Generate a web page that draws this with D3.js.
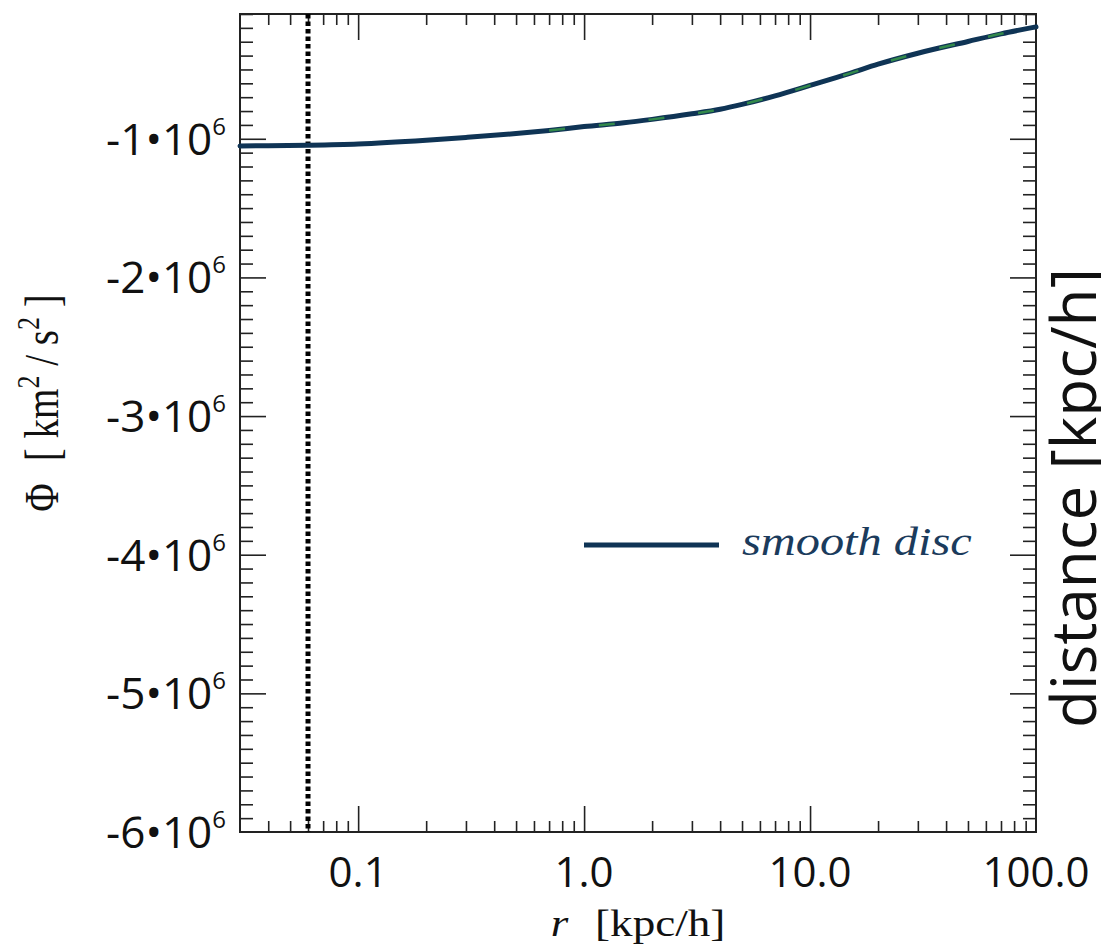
<!DOCTYPE html>
<html>
<head>
<meta charset="utf-8">
<script src="https://cdn.jsdelivr.net/npm/d3@7"></script>
<style>
  html, body { margin: 0; padding: 0; background: #fff; }
  svg { display: block; }
</style>
</head>
<body>
<svg id="chart" width="1101" height="949"></svg>
<script>
// Gravitational potential profile of the smooth disc, Phi(r)
const radius = [0.03, 0.04, 0.06, 0.1, 0.2, 0.3, 0.5, 0.7, 1.0, 1.5, 2, 3, 4, 5, 7, 10, 15, 20, 30, 50, 70, 100];
const phiSmooth = [-1.052e6, -1.050e6, -1.046e6, -1.037e6, -1.010e6, -0.990e6, -0.962e6, -0.940e6, -0.912e6,
  -0.885e6, -0.860e6, -0.820e6, -0.787e6, -0.752e6, -0.690e6, -0.615e6, -0.528e6, -0.462e6, -0.383e6,
  -0.298e6, -0.243e6, -0.193e6];
const softening = [0.06];             // vertical marker, kpc/h
const xMajorTicks = [0.1, 1, 10, 100];
const xTickLabels = ["0.1", "1.0", "10.0", "100.0"];
const yMajorTicks = [-1e6, -2e6, -3e6, -4e6, -5e6, -6e6];
const yTickMantissa = ["-1", "-2", "-3", "-4", "-5", "-6"];
const legendLabels = ["smooth disc"];

const svg = d3.select("#chart");
const plotL = 240, plotR = 1036, plotT = 14, plotB = 832;

const x = d3.scaleLog().domain([0.03, 100]).range([plotL, plotR]);
const y = d3.scaleLinear().domain([-6e6, -1e5]).range([plotB, plotT]);

const axisColor = "#222";
const lineColor = "#0f3455";

// minor tick values
const xMinor = [];
[0.01, 0.1, 1, 10].forEach(d => { for (let k = 2; k <= 9; k++) { const v = d * k; if (v > 0.03 && v < 100) xMinor.push(v); } });
const yMinor = d3.range(-59, 0).map(k => k * 1e5).filter(v => !yMajorTicks.includes(v) && v > -6e6);

// ticks pointing inwards on all four sides
const g = svg.append("g");
function xTicks(vals, len) {
  const a = d3.axisBottom(x).tickValues(vals).tickSize(len).tickFormat("");
  g.append("g").attr("transform", `translate(0,${plotB})`).call(a).call(s => { s.select(".domain").remove(); s.selectAll("line").attr("y2", -len); });
  g.append("g").attr("transform", `translate(0,${plotT})`).call(a).call(s => { s.select(".domain").remove(); s.selectAll("line").attr("y2", len); });
}
function yTicks(vals, len) {
  const a = d3.axisLeft(y).tickValues(vals).tickSize(len).tickFormat("");
  g.append("g").attr("transform", `translate(${plotL},0)`).call(a).call(s => { s.select(".domain").remove(); s.selectAll("line").attr("x2", len); });
  g.append("g").attr("transform", `translate(${plotR},0)`).call(a).call(s => { s.select(".domain").remove(); s.selectAll("line").attr("x2", -len); });
}
xTicks(xMinor, 11);
xTicks(xMajorTicks.filter(v => v < 100), 26);
yTicks(yMinor, 13);
yTicks(yMajorTicks.filter(v => v > -6e6), 26);
g.selectAll("line").attr("stroke", axisColor).attr("stroke-width", 1.6);

// frame
svg.append("rect").attr("x", plotL).attr("y", plotT).attr("width", plotR - plotL).attr("height", plotB - plotT)
  .attr("fill", "none").attr("stroke", axisColor).attr("stroke-width", 2);

// softening marker
svg.selectAll(".soft").data(softening).enter().append("line")
  .attr("x1", d => x(d)).attr("x2", d => x(d)).attr("y1", plotT).attr("y2", plotB)
  .attr("stroke", "#000").attr("stroke-width", 5).attr("stroke-dasharray", "4.5,3");

// potential curve
const pts = radius.map((r, i) => [r, phiSmooth[i]]);
const line = d3.line().x(d => x(d[0])).y(d => y(d[1])).curve(d3.curveMonotoneX);
svg.append("path").datum(pts).attr("d", line).attr("fill", "none")
  .attr("stroke", lineColor).attr("stroke-width", 5).attr("stroke-linecap", "round");
svg.append("path").datum(pts.filter(d => d[0] >= 0.7)).attr("d", line).attr("fill", "none")
  .attr("stroke", "#3fa548").attr("stroke-width", 2.5).attr("stroke-dasharray", "16,34").attr("opacity", 0.75);

// x tick labels
const sans = "'Open Sans', 'Noto Sans', sans-serif";
svg.selectAll(".xl").data(xMajorTicks).enter().append("text")
  .attr("x", d => x(d)).attr("y", 887).attr("text-anchor", "middle")
  .attr("font-family", sans).attr("font-size", 42).attr("fill", "#111")
  .text((d, i) => xTickLabels[i]);

// y tick labels: mantissa•10^6
const yl = svg.selectAll(".yl").data(yMajorTicks).enter().append("text")
  .attr("x", 226).attr("y", d => y(d) + 16).attr("text-anchor", "end")
  .attr("font-family", sans).attr("font-size", 44).attr("fill", "#111");
yl.append("tspan").text((d, i) => yTickMantissa[i] + "\u202210");
yl.append("tspan").attr("font-size", 24).attr("dy", -20).text("6");

// axis titles
const serif = "'Liberation Serif', 'Times New Roman', serif";
const xt = svg.append("text").attr("transform", "translate(638,936) scale(1.22,1)")
  .attr("text-anchor", "middle").attr("font-family", serif).attr("font-size", 37).attr("fill", "#111");
xt.append("tspan").attr("font-style", "italic").text("r");
xt.append("tspan").attr("dx", 22).text("[kpc/h]");

const yt = svg.append("text").attr("transform", "translate(58,403) rotate(-90) scale(1,1.25)")
  .attr("text-anchor", "middle").attr("font-family", serif).attr("font-size", 39).attr("fill", "#111");
yt.append("tspan").text("\u03A6");
yt.append("tspan").attr("dx", 22).text("[ km");
yt.append("tspan").attr("font-size", 26).attr("dy", -15).text("2");
yt.append("tspan").attr("dy", 15).text(" / s");
yt.append("tspan").attr("font-size", 26).attr("dy", -15).text("2");
yt.append("tspan").attr("dy", 15).text(" ]");

// right-hand label
svg.append("text").attr("transform", "translate(1096,498) rotate(-90)")
  .attr("text-anchor", "middle").attr("font-family", sans).attr("font-size", 62).attr("fill", "#111")
  .text("distance [kpc/h]");

// legend
const lg = svg.append("g");
lg.append("line").attr("x1", 584).attr("x2", 719).attr("y1", 545).attr("y2", 545)
  .attr("stroke", lineColor).attr("stroke-width", 5);
lg.append("text").attr("transform", "translate(742,555) scale(1.18,1)")
  .attr("font-family", serif).attr("font-style", "italic").attr("font-size", 41).attr("fill", "#1b3b5c")
  .text(legendLabels[0]);
</script>
</body>
</html>
